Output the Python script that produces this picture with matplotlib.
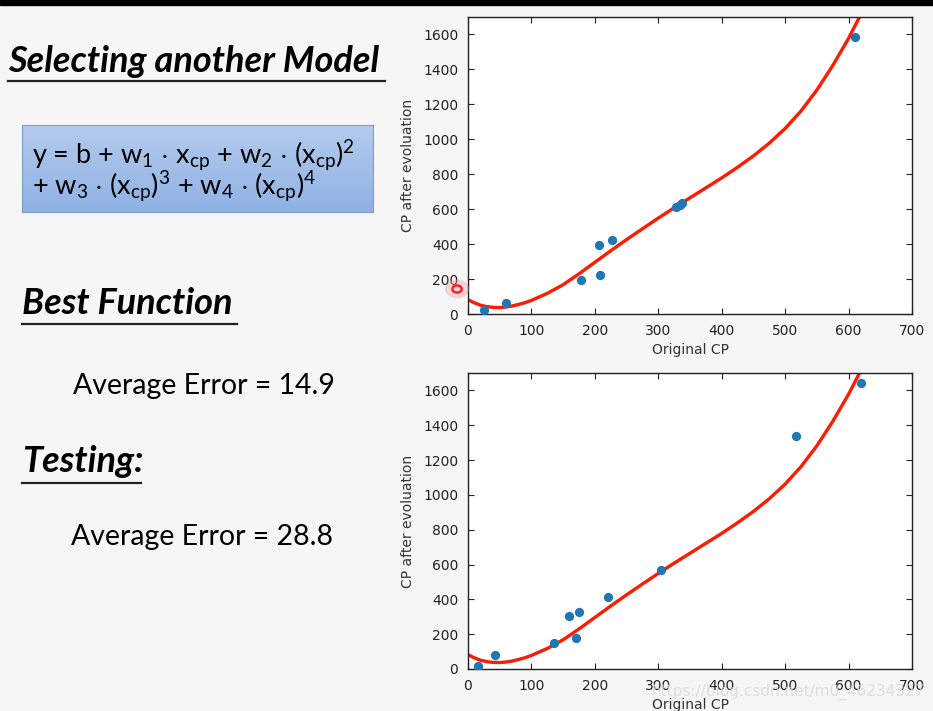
import matplotlib

matplotlib.use("Agg")
import matplotlib.pyplot as plt
import numpy as np
from matplotlib.lines import Line2D
from matplotlib.patches import Circle, Rectangle

W, H = 933, 711

# training data (top) and testing data (bottom)
train_x = [25, 60, 178, 207, 208, 227, 328, 334, 338, 610]
train_y = [25, 65, 195, 393, 225, 422, 612, 625, 635, 1588]
test_x = [15, 42, 135, 160, 170, 175, 220, 305, 517, 620]
test_y = [20, 82, 150, 302, 180, 325, 415, 570, 1340, 1645]

# fitted model
curve_x = [0, 10, 20, 30, 40, 50, 60, 70, 80, 90, 100, 125, 150, 175, 200, 225, 250, 275,
           300, 325, 350, 375, 400, 425, 450, 475, 500, 525, 550, 575, 600, 625]
curve_y = [82, 64, 50, 42, 38, 37, 40, 46, 55, 65, 78, 118, 168, 230, 296, 362, 426, 488,
           549, 608, 665, 722, 779, 840, 905, 978, 1062, 1162, 1282, 1422, 1578, 1755]

x_ticks = [0, 100, 200, 300, 400, 500, 600, 700]
y_ticks = [0, 200, 400, 600, 800, 1000, 1200, 1400, 1600]

SANS = ["Lato", "DejaVu Sans"]


def fx(px):
    return px / W


def fy(py):
    return 1 - py / H


def title_text(fig, x, y, s, x_end, y_line):
    fig.text(fx(x), fy(y), s, fontsize=26, fontweight="bold", fontstyle="italic",
             family=SANS, va="center", ha="left", color="black")
    fig.add_artist(Line2D([fx(x), fx(x_end)], [fy(y_line), fy(y_line)],
                          color="#222222", lw=1.6))


def make_plot(fig, rect, xs, ys):
    ax = fig.add_axes(rect)
    ax.plot(curve_x, curve_y, color="#ff1a00", lw=2.4, zorder=2)
    ax.scatter(xs, ys, s=32, color="#1f77b4", zorder=3)
    ax.set_xlim(0, 700)
    ax.set_ylim(0, 1700)
    ax.set_xticks(x_ticks)
    ax.set_yticks(y_ticks)
    ax.tick_params(direction="in", top=True, right=True, length=4, labelsize=10,
                   colors="#222222")
    ax.tick_params(axis="y", pad=7)
    ax.tick_params(axis="x", pad=7)
    for s in ax.spines.values():
        s.set_color("#222222")
        s.set_linewidth(1.0)
    ax.set_xlabel("Original CP", fontsize=10, color="#333333", labelpad=4)
    ax.set_ylabel("CP after evoluation", fontsize=10, color="#333333", labelpad=6)
    return ax


fig = plt.figure(figsize=(W / 100, H / 100), dpi=100)
fig.patch.set_facecolor("#f6f6f6")

# black strip along the top
fig.add_artist(Rectangle((0, fy(5)), 1, 1 - fy(5), transform=fig.transFigure,
                         color="black", zorder=10))

ax1 = make_plot(fig, [fx(468), fy(314), fx(912 - 468), (314 - 17) / H], train_x, train_y)
ax2 = make_plot(fig, [fx(468), fy(669), fx(912 - 468), (669 - 373) / H], test_x, test_y)

# laser pointer mark
fig.add_artist(Circle((fx(457), fy(289)), 0.012, transform=fig.transFigure,
                      color="#ff9a9a", alpha=0.35, zorder=11))
fig.add_artist(Circle((fx(457), fy(289)), 0.005, transform=fig.transFigure,
                      facecolor="none", edgecolor="#ff2020", lw=1.8, zorder=12))

# left side of the slide
title_text(fig, 8, 61, "Selecting another Model", 385, 81)

box = fig.add_axes([fx(22), fy(212), fx(373 - 22), (212 - 125) / H])
grad = np.linspace(0, 1, 64).reshape(-1, 1)
box.imshow(grad, aspect="auto", cmap=matplotlib.colors.LinearSegmentedColormap.from_list(
    "b", ["#b4cbee", "#8fb2e4"]), extent=[0, 1, 0, 1])
box.set_xticks([])
box.set_yticks([])
for s in box.spines.values():
    s.set_color("#7d9ccb")
plt.rcParams["mathtext.default"] = "regular"
fig.text(fx(32), fy(156), r"y = b + w$_1$ $\cdot$ x$_{cp}$ + w$_2$ $\cdot$ (x$_{cp}$)$^2$",
         fontsize=19.5, family=SANS, va="center", ha="left")
fig.text(fx(32), fy(187), r"+ w$_3$ $\cdot$ (x$_{cp}$)$^3$ + w$_4$ $\cdot$ (x$_{cp}$)$^4$",
         fontsize=19.5, family=SANS, va="center", ha="left")

title_text(fig, 22, 304, "Best Function", 237, 324)
fig.text(fx(73), fy(386), "Average Error = 14.9", fontsize=20.5, family=SANS,
         va="center", ha="left")
title_text(fig, 22, 462, "Testing:", 141, 483)
fig.text(fx(71), fy(537), "Average Error = 28.8", fontsize=20.5, family=SANS,
         va="center", ha="left")

fig.text(fx(925), fy(692), "https://blog.csdn.net/m0_46234327", fontsize=11,
         color="#d8d8d8", alpha=0.8, ha="right", va="center")

fig.savefig("out.png", dpi=100, facecolor=fig.get_facecolor())
